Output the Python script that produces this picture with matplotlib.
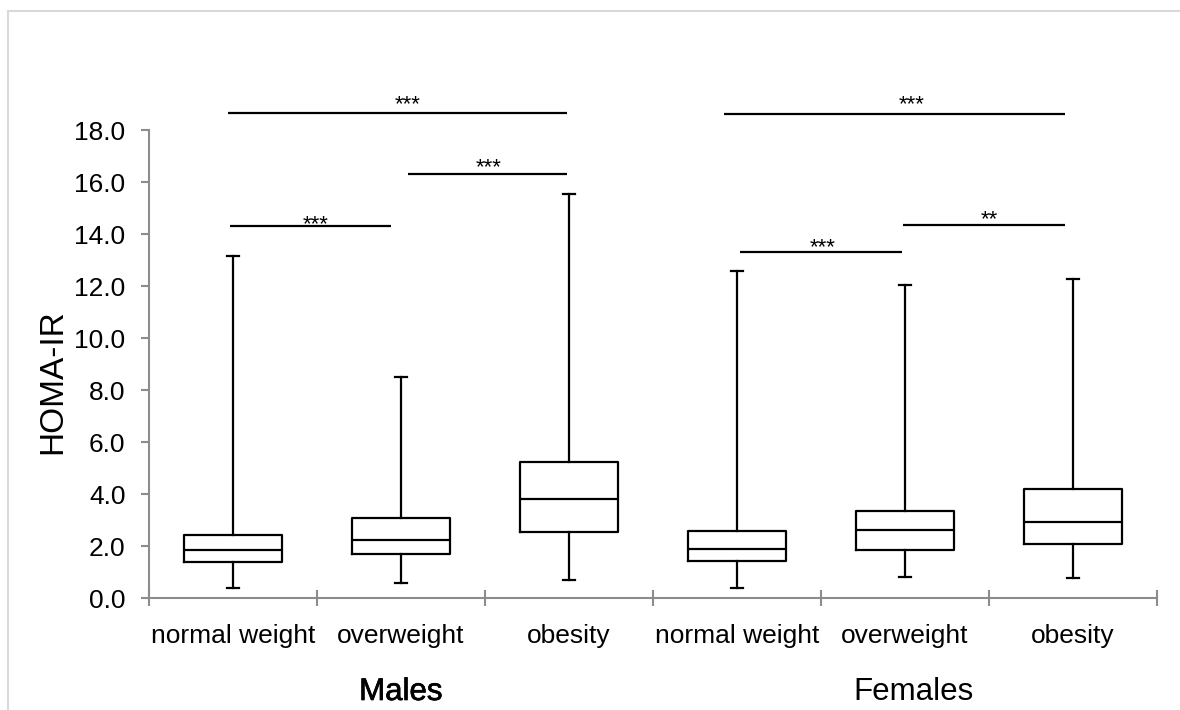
import matplotlib

matplotlib.use("Agg")
import matplotlib.pyplot as plt  # noqa: E402
from matplotlib.patches import Rectangle  # noqa: E402
from matplotlib import patheffects, transforms  # noqa: E402

plt.rcParams["font.family"] = ["Liberation Sans", "DejaVu Sans"]

CATEGORIES = ["normal weight", "overweight", "obesity",
              "normal weight", "overweight", "obesity"]
GROUP_LABELS = ["Males", "Females"]
GROUP_X = [1.0, 4.05]

WHISK_LO = [0.38, 0.56, 0.71, 0.38, 0.79, 0.77]
Q1 = [1.37, 1.68, 2.54, 1.42, 1.85, 2.09]
MEDIAN = [1.86, 2.24, 3.79, 1.90, 2.60, 2.92]
Q3 = [2.42, 3.06, 5.22, 2.59, 3.33, 4.19]
WHISK_HI = [13.15, 8.50, 15.54, 12.58, 12.04, 12.27]

# significance brackets (x in category units, y in HOMA-IR units)
BRACKET_START = [-0.02, 1.04, -0.03, 3.02, 3.99, 2.92]
BRACKET_END = [0.94, 1.99, 1.99, 3.98, 4.95, 4.95]
BRACKET_Y = [14.3, 16.3, 18.65, 13.32, 14.35, 18.62]
BRACKET_TEXT = ["***", "***", "***", "***", "**", "***"]
TEXT_X = [0.49, 1.52, 1.04, 3.51, 4.50, 4.04]
TEXT_Y = [14.62, 16.82, 19.23, 13.74, 14.82, 19.23]

Y_TICKS = [0, 2, 4, 6, 8, 10, 12, 14, 16, 18]

W, H = 1180, 710
fig = plt.figure(figsize=(W / 100, H / 100), dpi=100)
ax = fig.add_axes([149 / W, 1 - 598 / H, (1157 - 149) / W, (598 - 130) / H])

# light chart-area frame
fig.add_artist(Rectangle((8 / W, -0.5), 2.0, 1.5 - 11 / H, transform=fig.transFigure,
                         fill=False, edgecolor="#d9d9d9", linewidth=1.5))

stats = []
for i in range(len(CATEGORIES)):
    stats.append({
        "whislo": WHISK_LO[i], "q1": Q1[i], "med": MEDIAN[i],
        "q3": Q3[i], "whishi": WHISK_HI[i], "fliers": [],
    })

line = {"color": "black", "linewidth": 1.6}
ax.bxp(stats, positions=list(range(len(CATEGORIES))), widths=0.58,
       capwidths=0.075, showfliers=False, patch_artist=False,
       boxprops=line, medianprops=line, whiskerprops=line, capprops=line)

for x0, x1, y, label, tx, ty in zip(BRACKET_START, BRACKET_END, BRACKET_Y,
                                    BRACKET_TEXT, TEXT_X, TEXT_Y):
    ax.plot([x0, x1], [y, y], color="black", linewidth=1.6,
            solid_capstyle="butt", clip_on=False)
    ax.annotate(label, (tx, ty), xytext=(0, -9), textcoords="offset points",
                ha="center", va="baseline", fontsize=16, annotation_clip=False)

ax.set_xlim(-0.5, len(CATEGORIES) - 0.5)
ax.set_ylim(0, 18)
ax.set_yticks(Y_TICKS)
ax.set_yticklabels([f"{v:.1f}" for v in Y_TICKS])
ax.set_xticks([i + 0.5 for i in range(-1, len(CATEGORIES))])
ax.set_xticklabels([])
ax.set_xticks(list(range(len(CATEGORIES))), minor=True)
ax.set_xticklabels(CATEGORIES, minor=True)

spine_color = "#8c8c8c"
for side in ("top", "right"):
    ax.spines[side].set_visible(False)
for side in ("left", "bottom"):
    ax.spines[side].set_color(spine_color)
    ax.spines[side].set_linewidth(1.5)

ax.tick_params(axis="y", direction="out", length=6, width=1.5, color=spine_color,
               labelsize=19, pad=11)
ax.tick_params(axis="x", which="major", direction="inout", length=11, width=1.5,
               color=spine_color)
ax.tick_params(axis="x", which="minor", length=0, labelsize=19, pad=19)

fig.text(53 / W, 1 - 382 / H, "HOMA-IR", rotation=90, ha="center", va="center",
         fontsize=24)

blend = transforms.blended_transform_factory(ax.transData, fig.transFigure)
for gx, glabel in zip(GROUP_X, GROUP_LABELS):
    txt = ax.text(gx, 1 - 692 / H, glabel, transform=blend,
                  ha="center", va="center", fontsize=22.5)
    if glabel == "Males":
        txt.set_path_effects([patheffects.withStroke(linewidth=0.5, foreground="black")])

fig.savefig("out.png", dpi=100)
